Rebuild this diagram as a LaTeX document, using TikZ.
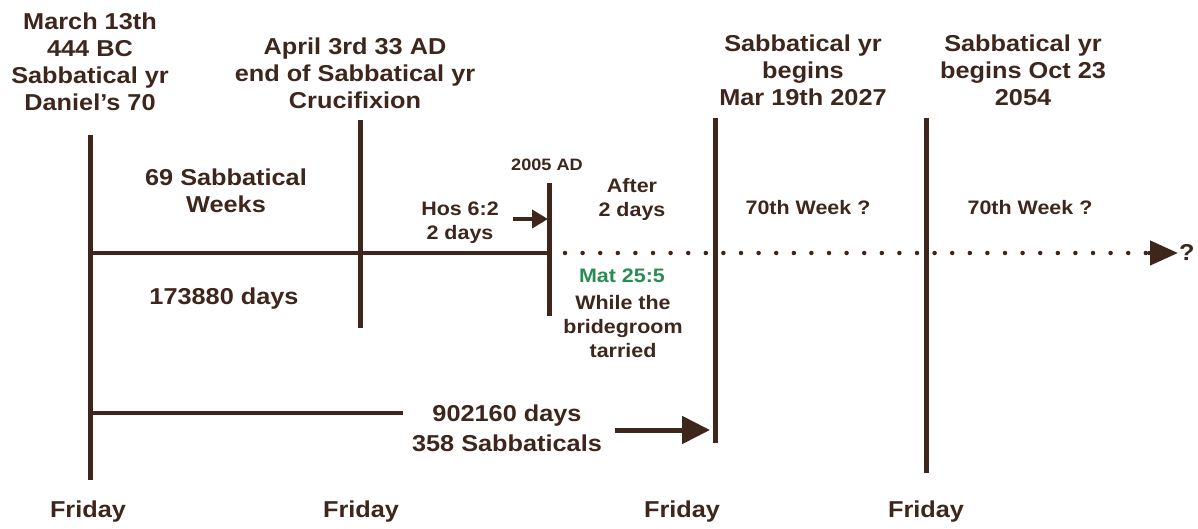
\documentclass[tikz,border=0pt]{standalone}
\usepackage{fontspec}
\setmainfont[FakeStretch=1.1]{Liberation Sans}
\usetikzlibrary{arrows.meta}
\definecolor{brn}{RGB}{62,38,28}
\definecolor{grn}{RGB}{42,140,82}
\tikzset{
  lbl/.style={text=brn, align=center, inner sep=0pt, font=\fontsize{23}{27}\selectfont\bfseries},
  sml/.style={text=brn, align=center, inner sep=0pt, font=\fontsize{19.5}{24}\selectfont\bfseries},
  tiny/.style={text=brn, align=center, inner sep=0pt, font=\fontsize{16.5}{20}\selectfont\bfseries},
  bar/.style={draw=brn, line width=5pt},
  hline/.style={draw=brn, line width=4.5pt},
  dots/.style={draw=brn, line width=4.5pt, line cap=round, dash pattern=on 0pt off 17.6pt},
  arr/.style={draw=brn, line width=5pt, -{Triangle[length=28pt,width=27pt]}},
  sarr/.style={draw=brn, line width=4pt, -{Triangle[length=16pt,width=18pt]}}
}
\begin{document}
\begin{tikzpicture}[x=1pt,y=-1pt]
\useasboundingbox (0,0) rectangle (1198,529);
% vertical bars
\coordinate (a1) at (90,135);  \coordinate (a2) at (90,480);
\coordinate (b1) at (360,120); \coordinate (b2) at (360,328);
\coordinate (c1) at (549,183); \coordinate (c2) at (549,316);
\coordinate (d1) at (715,118); \coordinate (d2) at (715,443);
\coordinate (e1) at (926,118); \coordinate (e2) at (926,473);
\draw[bar] (a1) -- (a2);
\draw[bar] (b1) -- (b2);
\draw[bar] (c1) -- (c2);
\draw[bar] (d1) -- (d2);
\draw[bar] (e1) -- (e2);
% main line
\coordinate (m0) at (88,253);
\coordinate (m1) at (551,253);
\draw[hline] (m0) -- (m1);
\coordinate (dotA) at (565,253);
\coordinate (dotB) at (1150,253);
\draw[dots] (dotA) -- (dotB);
\coordinate (tipS) at (1148,253);
\coordinate (tipE) at (1178,253);
\draw[draw=brn, line width=4.5pt, -{Triangle[length=28pt,width=24pt]}] (tipS) -- (tipE);
\node[lbl, anchor=west] (q) at (1179,252) {?};
% Hos arrow
\coordinate (h0) at (513,219);
\coordinate (h1) at (548,219);
\draw[sarr] (h0) -- (h1);
% bottom line
\coordinate (bl0) at (88,413);
\coordinate (bl1) at (403,413);
\draw[hline] (bl0) -- (bl1);
\coordinate (ba0) at (615,430);
\coordinate (ba1) at (710,430);
\draw[arr] (ba0) -- (ba1);
% labels
\node[lbl] (t1) at (90,62) {March 13th\\444 BC\\Sabbatical yr\\Daniel’s 70};
\node[lbl] (t2) at (355,73) {April 3rd 33 AD\\end of Sabbatical yr\\Crucifixion};
\node[lbl] (t3) at (803,70) {Sabbatical yr\\begins\\Mar 19th 2027};
\node[lbl] (t4) at (1023,70) {Sabbatical yr\\begins Oct 23\\2054};
\node[lbl] (w69) at (226,191) {69 Sabbatical\\Weeks};
\node[lbl] (d173) at (224,299) {173880 days};
\node[tiny] (y2005) at (547,165) {2005 AD};
\node[sml] (hos) at (460,223) {Hos 6:2\\2 days};
\node[sml] (after) at (632,199) {After\\2 days};
\node[sml, text=grn] (mat) at (622,276) {Mat 25:5};
\node[sml] (while) at (623,327) {While the\\bridegroom\\tarried};
\node[sml] (w70a) at (808,208) {70th Week ?};
\node[sml] (w70b) at (1030,208) {70th Week ?};
\node[lbl, font=\fontsize{23}{30}\selectfont\bfseries] (d902) at (507,428) {902160 days\\358 Sabbaticals};
\node[lbl] (f1) at (88,512) {Friday};
\node[lbl] (f2) at (361,512) {Friday};
\node[lbl] (f3) at (682,512) {Friday};
\node[lbl] (f4) at (926,512) {Friday};
\end{tikzpicture}
\end{document}
